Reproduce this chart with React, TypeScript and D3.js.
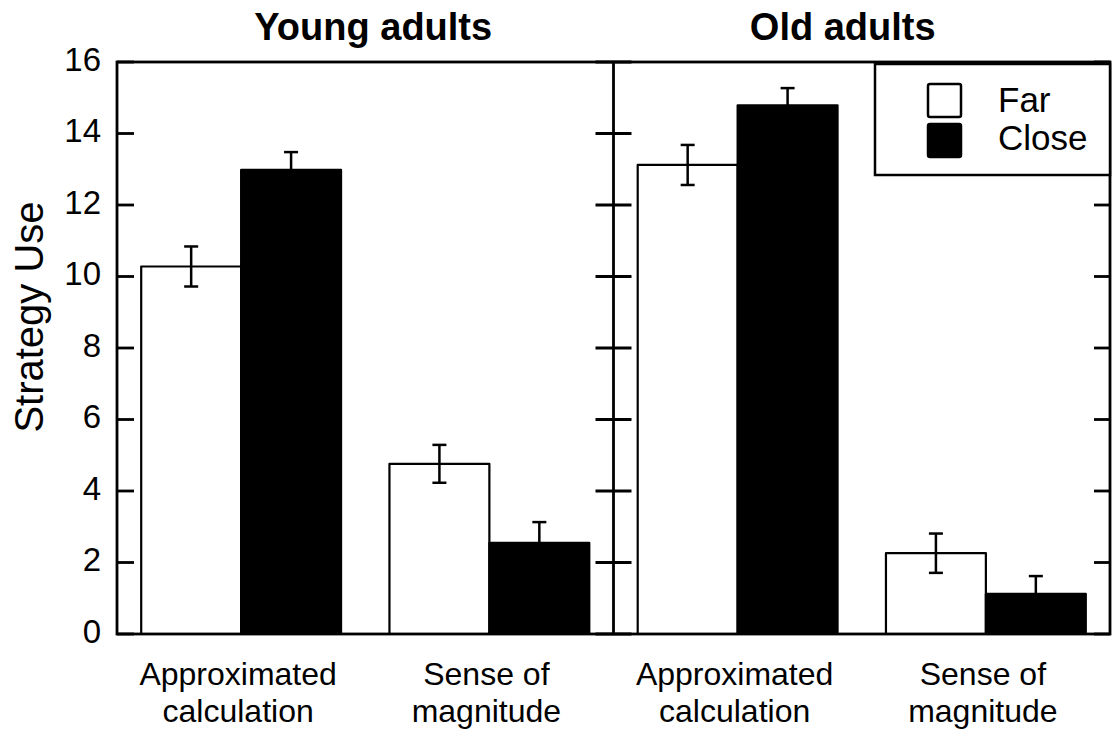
import { scaleBand, scaleLinear } from "d3";

const width = 1115;
const height = 731;

const groups = ["Young adults", "Old adults"];
const categories = ["Approximated calculation", "Sense of magnitude"];
const categoryLines = [
  ["Approximated", "calculation"],
  ["Sense of", "magnitude"],
];
const conditions = ["Far", "Close"];
const yTicks = [0, 2, 4, 6, 8, 10, 12, 14, 16];

// means and half error bars, per group, in category order
const farMeans = [
  [10.28, 4.76],
  [13.12, 2.26],
];
const closeMeans = [
  [12.98, 2.55],
  [14.79, 1.12],
];
const farErr = [
  [0.56, 0.53],
  [0.56, 0.55],
];
const closeErr = [
  [0.5, 0.58],
  [0.48, 0.5],
];

const left = 117;
const right = 1110;
const top = 62;
const bottom = 634;
const font = "'Liberation Sans', Arial, sans-serif";

export default function App() {
  const y = scaleLinear().domain([0, 16]).range([bottom, top]);
  const panel = scaleBand<string>().domain(groups).range([left, right]);
  const cat = scaleBand<string>()
    .domain(categories)
    .range([0, panel.bandwidth()])
    .paddingInner(0.195)
    .paddingOuter(0.0975);
  const cond = scaleBand<string>().domain(conditions).range([0, cat.bandwidth()]);
  const cap = 7;

  const means = [farMeans, closeMeans];
  const errs = [farErr, closeErr];
  const divider = panel(groups[1])!;

  return (
    <svg
      width={width}
      height={height}
      style={{ position: "absolute", left: 0, top: 0, background: "#fff" }}
    >
      {groups.map((g, gi) => {
        const px = panel(g)!;
        return (
          <g key={g}>
            <text
              x={gi === 0 ? px + panel.bandwidth() / 2 + 8 : px + panel.bandwidth() / 2 - 19}
              y={40}
              textAnchor="middle"
              fontFamily={font}
              fontWeight="bold"
              fontSize={38}
            >
              {g}
            </text>
            {categories.map((c, ci) => {
              const cx = px + cat(c)!;
              return (
                <g key={c}>
                  {conditions.map((k, ki) => {
                    const v = means[ki][gi][ci];
                    const e = errs[ki][gi][ci];
                    const bx = cx + cond(k)!;
                    const mx = bx + cond.bandwidth() / 2;
                    return (
                      <g key={k}>
                        <rect
                          x={bx}
                          y={y(v)}
                          width={cond.bandwidth()}
                          height={y(0) - y(v)}
                          fill={ki === 0 ? "#fff" : "#000"}
                          stroke="#000"
                          strokeWidth={2.2}
                          strokeLinejoin="round"
                        />
                        <g stroke="#000" strokeWidth={2.5}>
                          <line x1={mx} x2={mx} y1={y(v - e)} y2={y(v + e)} />
                          <line x1={mx - cap} x2={mx + cap} y1={y(v + e)} y2={y(v + e)} />
                          <line x1={mx - cap} x2={mx + cap} y1={y(v - e)} y2={y(v - e)} />
                        </g>
                      </g>
                    );
                  })}
                  {categoryLines[ci].map((line, li) => (
                    <text
                      key={line}
                      x={cx + cat.bandwidth() / 2 - 3}
                      y={685 + li * 37}
                      textAnchor="middle"
                      fontFamily={font}
                      fontSize={32}
                    >
                      {line}
                    </text>
                  ))}
                </g>
              );
            })}
          </g>
        );
      })}

      {/* frame and ticks */}
      <g stroke="#000" strokeWidth={2.8} fill="none">
        <rect x={left} y={top} width={right - left} height={bottom - top} />
        <line x1={divider} x2={divider} y1={top} y2={bottom} />
        {yTicks.map((t) => (
          <g key={t}>
            <line x1={left} x2={left + 17} y1={y(t)} y2={y(t)} />
            <line x1={divider - 18} x2={divider + 18} y1={y(t)} y2={y(t)} />
            <line x1={right - 16} x2={right} y1={y(t)} y2={y(t)} />
          </g>
        ))}
      </g>
      {yTicks.map((t) => (
        <text
          key={t}
          x={101}
          y={y(t) + 8.5}
          textAnchor="end"
          fontFamily={font}
          fontSize={33}
        >
          {t}
        </text>
      ))}
      <text
        transform={`translate(43,317) rotate(-90)`}
        textAnchor="middle"
        fontFamily={font}
        fontSize={40}
      >
        Strategy Use
      </text>

      {/* legend */}
      <rect x={875} y={64} width={right - 875} height={111} fill="#fff" stroke="#000" strokeWidth={2.5} />
      {conditions.map((k, ki) => (
        <g key={k}>
          <rect
            x={928}
            y={84 + ki * 40}
            width={33}
            height={33}
            rx={2}
            fill={ki === 0 ? "#fff" : "#000"}
            stroke="#000"
            strokeWidth={2.5}
          />
          <text x={998} y={112 + ki * 38} fontFamily={font} fontSize={35}>
            {k}
          </text>
        </g>
      ))}
    </svg>
  );
}
